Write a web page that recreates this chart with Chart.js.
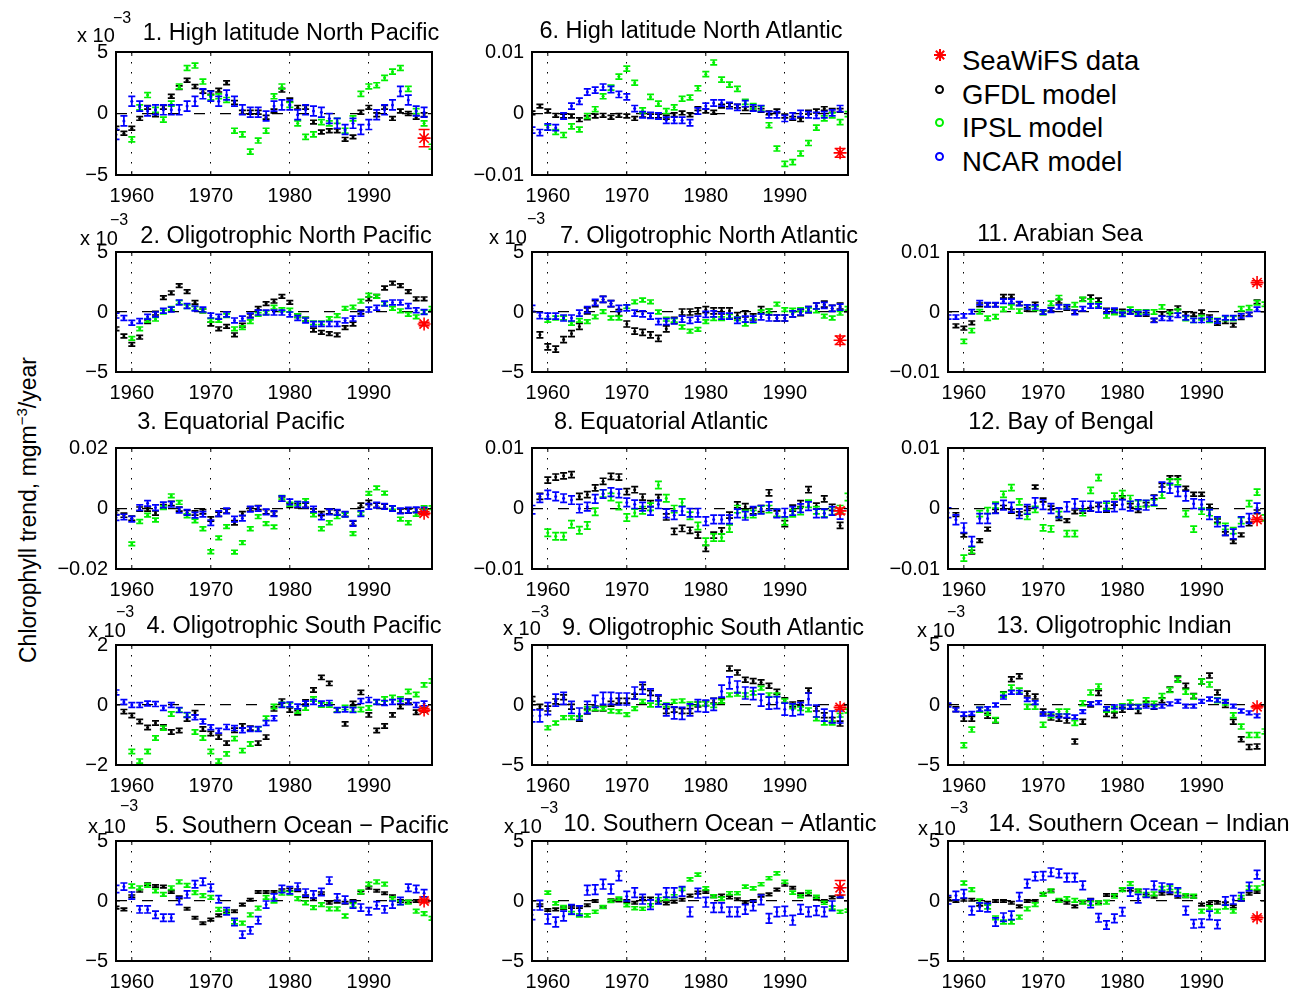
<!DOCTYPE html>
<html>
<head>
<meta charset="utf-8">
<title>Chlorophyll trend</title>
<script src="https://cdn.jsdelivr.net/npm/chart.js@4.4.1/dist/chart.umd.min.js"></script>
<style>
html,body{margin:0;padding:0;background:#fff;}
body{position:relative;width:1300px;height:994px;overflow:hidden;font-family:"Liberation Sans",Arial,Helvetica,sans-serif;color:#000;}
canvas{position:absolute;}
.ttl{position:absolute;white-space:nowrap;line-height:1;transform:translate(-50%,-50%);font-size:23.5px;}
.ex{position:absolute;white-space:nowrap;line-height:1;font-size:20px;transform:translateY(-50%);}
.exs{font-size:16px;}
#ylab{position:absolute;left:28px;top:510px;transform:translate(-50%,-50%) rotate(-90deg);font-size:23px;white-space:nowrap;line-height:1;}
#ylab sup{font-size:15px;vertical-align:0.6em;line-height:0;}
.leg{position:absolute;left:962px;font-size:27.5px;line-height:1;transform:translateY(-50%);white-space:nowrap;}
.mk{position:absolute;}
.circ{position:absolute;width:5px;height:5px;border-radius:50%;border:2.5px solid #000;}
</style>
</head>
<body>
<div id="ylab">Chlorophyll trend, mgm<sup>−3</sup>/year</div>

<svg class="mk" style="left:933px;top:48px" width="14" height="14"><g stroke="#ff0000" stroke-width="2"><line x1="7" y1="1" x2="7" y2="13"/><line x1="1" y1="7" x2="13" y2="7"/><line x1="2.8" y1="2.8" x2="11.2" y2="11.2"/><line x1="11.2" y1="2.8" x2="2.8" y2="11.2"/></g></svg>
<div class="leg" style="top:61px">SeaWiFS data</div>
<div class="circ" style="left:935px;top:85px;border-color:#000"></div>
<div class="leg" style="top:95px">GFDL model</div>
<div class="circ" style="left:935px;top:118px;border-color:#00f000"></div>
<div class="leg" style="top:128px">IPSL model</div>
<div class="circ" style="left:935px;top:152px;border-color:#0000ff"></div>
<div class="leg" style="top:162px">NCAR model</div>

<script>
// ---------------- DATA (values in units of 1e-3 mg m^-3 / year) ----------------
const years = [1958,1959,1960,1961,1962,1963,1964,1965,1966,1967,1968,1969,1970,1971,1972,1973,1974,1975,1976,1977,1978,1979,1980,1981,1982,1983,1984,1985,1986,1987,1988,1989,1990,1991,1992,1993,1994,1995,1996,1997,1998];
const xTickYears = [1960,1970,1980,1990];

const titles = ['1. High latitude North Pacific','2. Oligotrophic North Pacific','3. Equatorial Pacific','4. Oligotrophic South Pacific','5. Southern Ocean \u2212 Pacific','6. High latitude North Atlantic','7. Oligotrophic North Atlantic','8. Equatorial Atlantic','9. Oligotrophic South Atlantic','10. Southern Ocean \u2212 Atlantic','11. Arabian Sea','12. Bay of Bengal','13. Oligotrophic Indian','14. Southern Ocean \u2212 Indian'];

const yTickVals2 = [-2,0,2],   yTickText2 = ['\u22122','0','2'];
const yTickVals5 = [-5,0,5],   yTickText5 = ['\u22125','0','5'];
const yTickVals10 = [-10,0,10], yTickText10 = ['\u22120.01','0','0.01'];
const yTickVals20 = [-20,0,20], yTickText20 = ['\u22120.02','0','0.02'];
const panelYRange = [5,5,20,2,5,10,5,10,5,5,10,10,5,5];

const gfdl1 = [-1.2,-1.6,-1.2,-0.4,0.5,-0.1,0.5,1.4,2.1,2.7,2.2,1.8,1.7,1.9,2.5,0.9,0.1,0.1,0.1,-0.3,0.2,1.9,1.1,0.5,0.5,-0.7,-1.5,-1.4,-1.4,-2.1,-1.9,0.1,0.5,-0.1,0.5,-0.4,0.2,0.0,-0.3,-0.1,null];
const ipsl1 = [null,null,-2.1,0.5,1.5,0.3,-0.5,0.8,2.2,3.7,3.9,2.6,1.3,1.4,1.1,-1.4,-1.7,-3.1,-2.2,-1.4,1.4,2.2,0.7,-0.8,-1.9,-1.7,-0.7,-0.8,-0.6,-1.4,-0.4,1.6,2.2,2.3,2.9,3.4,3.7,2.0,0.2,-0.8,-2.7];
const ncar1 = [-1.7,-0.6,1.0,0.6,0.2,0.3,0.3,0.3,0.3,0.6,1.0,1.6,1.4,1.0,1.5,1.0,0.3,0.1,0.1,-0.2,0.6,0.7,0.7,-0.1,0.3,0.2,0.1,-0.4,-0.8,-1.3,-0.8,-1.3,-0.9,-0.1,0.3,0.7,1.8,1.1,0.2,0.1,null];

const gfdl2 = [-1.4,-2.0,-2.7,-2.1,-0.8,-0.1,1.2,1.6,2.2,1.7,0.8,0.1,-1.0,-1.4,-1.2,-1.9,-1.1,-0.3,0.3,0.7,0.9,1.3,0.8,-0.3,-0.6,-1.5,-1.7,-1.8,-1.9,-1.3,-1.0,0.0,1.1,1.3,2.0,2.4,2.2,1.7,1.1,1.1,null];
const ipsl2 = [null,null,-2.2,-1.4,-0.7,-0.6,0.0,0.3,0.8,0.45,0.3,0.1,-0.7,-0.7,-0.3,-1.4,-1.3,-0.8,-0.2,-0.05,0.4,0.2,0.15,-0.3,-0.6,-0.9,-0.9,-0.55,-0.3,0.3,0.4,0.9,1.4,1.3,0.7,0.3,0.1,-0.2,-0.4,0.0,0.3];
const ncar2 = [-0.3,-0.5,-0.9,-0.75,-0.4,-0.2,0.1,0.2,0.8,0.5,0.3,0.2,-0.3,-0.4,-0.2,-0.7,-0.55,-0.3,-0.05,-0.05,-0.05,-0.05,-0.2,-0.5,-0.7,-1.0,-1.0,-1.0,-1.0,-0.7,-0.55,-0.15,0.2,0.35,0.7,0.8,0.8,0.5,0.15,0.0,null];

const gfdl3 = [-1.3,-2.2,-3.2,-0.2,-0.2,-1.5,0.55,1.7,-0.2,-1.3,-1.5,-1.1,-3.5,-1.9,-0.8,-4.7,-1.7,-0.2,0.3,-1.1,-1.7,3.1,1.1,0.9,1.1,-0.8,-1.7,-1.1,-1.3,-1.9,-4.9,1.1,2.0,1.1,0.7,0.1,-0.8,-0.8,-0.45,-0.8,null];
const ipsl3 = [null,null,-11.7,-4.3,-2.2,-3.8,0.3,4.2,2.0,-2.4,-4.1,-6.7,-14.3,-9.7,-6.0,-14.4,-11.3,-6.7,-2.7,-5.0,-6.1,3.7,1.4,1.7,2.6,-2.1,-6.7,-4.7,-2.7,-2.1,-8.3,-1.7,5.0,6.8,5.1,0.3,-3.5,-4.7,-1.9,0.3,0.3];
const ncar3 = [-3.0,-2.8,-3.5,0.3,1.7,0.3,1.2,1.4,-0.55,-1.3,-2.2,-1.9,-4.7,-1.7,-0.8,-3.5,-3.2,-0.2,0.0,-1.1,-1.7,3.3,2.2,1.4,1.2,-0.2,-2.8,-1.1,-1.3,-1.9,-4.9,-1.7,0.7,1.1,0.7,0.0,-0.8,-0.55,-0.45,-0.55,null];

const gfdl4 = [null,-0.22,-0.35,-0.55,-0.75,-0.6,-0.73,-0.9,-0.85,-0.47,-0.26,-0.8,-0.95,-1.07,-1.27,-0.84,-0.7,-0.77,-1.27,-1.07,-0.13,0.13,-0.17,-0.26,0.1,0.5,0.92,0.72,-0.17,-0.63,0.05,0.42,-0.33,-0.85,-0.7,-0.33,-0.05,0.13,-0.24,-0.17,null];
const ipsl4 = [null,null,-1.55,-1.87,-1.55,-1.1,-0.77,-0.3,-0.17,-0.33,-0.9,-1.1,-1.55,-1.87,-1.63,-1.12,-1.52,-1.3,-0.8,-0.44,-0.05,0.02,0.0,-0.2,-0.1,0.2,0.0,0.0,-0.17,-0.08,-0.15,-0.15,-0.1,0.1,0.2,0.25,0.2,0.45,0.35,0.67,0.8];
const ncar4 = [0.42,0.1,0.0,0.0,0.05,0.03,-0.1,0.0,-0.17,-0.33,-0.41,-0.55,-0.74,-0.86,-0.73,-0.77,-0.84,-0.8,-0.8,-0.6,-0.44,0.0,0.02,-0.05,0.05,0.1,0.05,0.07,-0.17,-0.15,-0.17,0.13,0.17,0.1,0.07,0.1,0.13,0.1,0.0,0.05,null];

const gfdl5 = [-0.55,-0.7,0.4,0.85,1.4,1.25,1.2,0.75,0.3,-0.65,-1.4,-1.85,-1.55,-1.2,-0.85,-0.85,-0.3,0.1,0.75,0.75,0.75,0.9,0.95,0.9,0.4,0.15,0.65,-0.15,-0.05,-0.15,0.0,0.7,1.1,0.85,0.65,0.4,0.0,-0.05,0.0,0.0,null];
const ipsl5 = [null,null,1.25,1.1,1.3,0.85,0.55,1.1,1.6,1.3,0.7,0.45,0.3,-0.7,-0.9,-1.75,-1.85,-1.15,-0.6,0.3,0.0,0.65,0.65,0.2,-0.15,-0.55,-0.3,-0.65,-0.65,-1.25,-0.35,0.75,1.4,1.6,1.4,0.2,-0.15,-0.1,-0.85,-1.05,-1.45];
const ncar5 = [1.0,1.2,0.45,-0.7,-0.7,-1.15,-1.4,-1.4,0.0,0.55,1.4,1.6,1.1,0.15,-0.85,-1.75,-2.8,-2.45,-1.6,-0.3,0.3,1.0,0.9,1.2,0.7,0.55,0.75,1.7,0.3,0.1,-0.3,-0.55,-0.85,-0.35,-0.7,-0.3,0.0,1.1,1.0,0.65,null];

const gfdl6 = [0.1,1.2,0.4,-0.3,-0.4,-0.4,-1.0,-0.7,-0.4,-0.3,-0.6,-0.3,-0.4,-0.8,-0.3,-0.4,-0.4,-0.6,-0.2,0.1,-0.2,0.8,0.4,0.2,1.2,1.4,1.2,0.8,0.8,0.5,0.1,0.4,-0.4,-0.8,-1.0,0.2,0.4,0.8,0.5,0.5,null];
const ipsl6 = [null,null,-2.3,-3.0,-3.5,-2.1,-2.6,-0.4,0.7,2.8,4.2,6.0,7.3,5.0,0.5,2.7,1.6,0.4,1.0,2.4,2.6,4.1,6.4,8.3,5.5,4.7,4.0,1.9,1.2,0.8,-1.9,-5.7,-8.2,-7.9,-6.5,-4.8,-2.3,-0.8,-0.3,-1.4,-0.1];
const ncar6 = [-2.7,-3.1,-2.2,-2.3,-0.4,1.2,2.0,3.5,3.8,4.3,3.9,3.1,2.7,0.8,-0.2,-0.3,-0.4,-1.1,-1.1,-1.1,-1.5,0.4,1.2,1.7,1.7,1.3,1.0,1.6,0.9,0.8,-0.2,-0.2,-0.8,-0.4,0.0,-0.2,-0.3,-0.2,0.1,0.8,null];

const gfdl7 = [null,-1.9,-2.9,-3.1,-2.3,-1.8,-1.2,0.1,0.7,1.05,0.7,-0.05,-1.0,-1.6,-1.7,-1.9,-2.2,-1.4,-0.7,0.0,0.0,0.1,0.2,0.1,0.1,0.1,-0.3,-0.15,-0.4,0.2,0.0,-0.5,-0.5,-0.15,-0.05,0.2,0.5,0.65,0.3,0.5,null];
const ipsl7 = [null,null,-0.7,-0.5,-0.5,-0.95,-0.7,-0.8,-0.4,0.03,-0.5,-0.5,0.45,0.85,1.0,0.85,0.0,-0.6,-0.7,-1.25,-1.6,-1.45,-0.8,-0.55,-0.55,-0.35,-0.55,-1.0,-0.75,0.0,0.1,0.65,0.2,0.15,0.2,0.2,0.1,-0.35,-0.5,-0.1,0.3];
const ncar7 = [0.3,-0.3,-0.35,-0.35,-0.5,-0.5,-0.1,0.2,0.8,1.05,0.7,0.3,0.35,-0.1,-0.15,-0.35,-0.8,-0.8,-0.75,-0.6,-0.7,-0.6,-0.2,-0.15,-0.35,-0.35,-0.7,-0.6,-0.6,-0.4,-0.5,-0.5,-0.5,-0.15,0.0,0.2,0.5,0.55,0.3,0.4,null];

const gfdl8 = [null,2.0,4.7,5.2,5.4,5.6,2.0,2.3,3.4,4.5,5.3,5.2,2.8,3.1,1.9,0.8,1.8,-1.4,-3.8,-3.3,-3.6,-4.4,-6.6,-4.4,-3.7,-1.1,0.6,0.3,-0.4,0.0,2.6,-0.9,-2.5,0.05,0.8,3.1,0.4,1.6,0.2,-2.8,null];
const ipsl8 = [null,null,-4.0,-4.6,-4.6,-2.6,-3.6,-2.8,-0.55,2.5,1.9,0.4,-1.5,-0.7,-0.3,0.3,3.9,1.7,-0.1,1.0,-1.2,-2.9,-5.5,-4.8,-4.8,-3.3,-0.1,-0.9,-0.9,-0.2,-0.1,-0.7,-2.1,-0.8,-0.4,0.8,-0.3,-0.8,-0.4,-0.1,1.9];
const ncar8 = [-0.2,1.7,2.3,2.0,1.7,1.4,0.0,0.3,1.6,2.4,2.7,2.5,1.0,0.7,0.3,-0.4,0.7,-0.8,-1.1,-0.4,-0.7,-0.7,-2.1,-1.8,-1.8,-1.8,-0.8,-1.2,-0.4,-0.2,0.4,-0.8,-0.7,-0.4,0.05,0.4,-0.8,-0.8,-0.4,-1.05,null];

const gfdl9 = [0.5,-0.15,-0.3,0.3,0.65,-0.15,-1.15,-0.55,-0.3,-0.3,0.1,0.35,0.35,0.7,1.5,1.0,0.55,-0.5,-0.4,-0.5,-0.5,0.05,0.15,0.35,0.35,3.05,2.7,2.1,2.0,1.9,1.6,1.1,0.4,0.05,0.15,1.2,-0.3,-0.85,-1.25,-1.55,null];
const ipsl9 = [null,null,-1.9,-1.5,-1.05,-1.05,-1.05,-0.3,-0.3,-0.3,-0.5,-0.55,-0.8,-0.3,0.3,0.0,0.2,0.0,0.3,0.35,0.1,0.1,0.1,-0.05,0.3,0.85,0.9,0.85,1.0,1.4,0.85,0.85,0.35,-0.15,-0.3,-0.4,-1.15,-1.5,-1.5,-0.85,-0.5];
const ncar9 = [-0.9,-0.9,-0.3,0.4,0.55,-0.2,-0.75,-0.2,0.3,0.55,0.55,0.5,0.5,1.0,1.4,0.85,0.35,-0.4,-0.65,-0.7,-0.4,-0.05,-0.1,0.05,1.15,1.85,1.5,1.0,0.95,0.4,0.15,0.2,-0.35,-0.4,-0.3,0.5,-0.5,-0.85,-1.0,-1.0,null];

const gfdl10 = [null,-0.35,-0.75,-0.7,-0.6,-0.5,-0.5,-0.35,0.0,-0.5,0.05,0.05,0.0,-0.15,0.2,0.2,-0.1,-0.2,-0.05,0.1,0.45,0.7,0.75,0.4,0.45,0.3,0.15,-0.1,0.0,0.45,0.55,0.95,1.35,1.1,0.55,0.55,0.2,0.0,0.3,0.35,null];
const ipsl10 = [null,null,0.7,-0.2,-0.5,-1.0,-1.2,-1.2,-0.9,-0.5,0.0,0.2,-0.35,-0.6,-0.65,-0.35,0.15,0.2,0.4,1.0,1.8,2.2,1.05,0.4,0.2,0.65,0.65,1.2,1.05,1.4,1.9,2.3,1.6,0.7,0.4,0.75,0.35,-0.15,-0.55,-0.9,-0.8];
const ncar10 = [-1.15,-0.35,-1.5,-1.75,-1.25,-0.7,-0.8,0.9,0.95,1.4,1.0,2.1,0.4,0.7,0.15,-0.3,0.15,0.7,0.7,0.8,-0.9,0.65,-0.1,-0.55,-0.55,-0.9,-0.9,-0.7,-0.4,0.1,-1.45,-0.9,-0.85,-1.6,-0.7,-0.9,-0.8,-0.9,-0.4,0.7,null];

const gfdl11 = [null,-2.3,-2.7,-1.8,1.2,1.2,1.2,2.6,2.6,1.4,0.45,1.3,-0.1,0.45,1.8,0.6,0.0,2.1,2.5,2.0,0.3,0.15,0.15,0.05,-0.4,-0.4,-1.4,-0.3,0.05,0.7,-0.3,-0.4,0.0,-0.8,-1.9,-1.6,-2.2,-0.95,-0.4,1.7,null];
const ipsl11 = [null,null,-4.9,-3.1,0.05,-1.05,-0.8,0.45,0.85,0.15,0.85,0.6,-0.1,1.45,2.4,0.9,1.2,2.1,1.8,1.2,-0.65,-0.1,-0.2,0.45,0.0,0.0,0.0,0.85,-0.4,0.15,-1.1,-1.4,-0.95,-1.4,-1.4,-1.1,-1.1,0.55,0.7,1.55,1.3];
const ncar11 = [-0.85,-0.85,-0.65,0.05,1.55,1.2,1.2,1.8,1.8,1.4,0.85,0.85,0.0,0.3,0.85,0.85,-0.1,0.55,1.0,1.0,0.15,0.3,-0.4,0.0,-0.3,-0.1,-1.4,-1.05,-1.1,-0.55,-0.95,-1.4,-1.4,-1.2,-1.5,-0.95,-0.95,-0.65,-0.4,0.45,null];

const gfdl12 = [null,-1.0,-4.4,-7.2,-5.3,-3.4,-0.45,0.2,-0.45,-0.85,0.0,3.55,1.4,0.1,-1.65,-2.0,-0.55,-0.45,-0.15,0.65,-0.3,0.85,1.8,0.5,-0.35,0.65,1.9,3.85,5.1,5.1,3.35,2.35,2.35,0.4,-2.0,-4.15,-5.45,-4.35,-2.55,-0.55,null];
const ipsl12 = [null,null,-8.2,-6.9,-0.85,-0.35,0.55,2.35,3.45,1.1,-1.3,-0.15,-3.2,-3.35,-1.0,-4.15,-4.15,-0.7,3.0,5.1,0.4,2.05,2.45,1.65,0.8,0.8,0.95,2.2,4.4,4.4,-0.85,-3.4,-0.45,-0.7,-2.0,-2.95,-3.65,-2.0,0.8,2.7,-1.55];
const ncar12 = [-0.7,-1.85,-3.2,-5.45,-1.65,-1.65,0.0,0.55,0.2,-0.85,-0.15,0.95,0.65,0.0,-0.7,0.3,0.8,0.4,0.4,0.2,0.4,0.3,0.65,0.4,0.65,0.55,1.35,3.55,3.35,2.8,2.05,0.8,0.65,-1.0,-2.2,-3.65,-4.2,-2.2,-1.65,0.1,null];

const gfdl13 = [null,-0.35,-1.15,-1.15,-0.4,-0.9,-1.3,0.9,2.15,2.4,0.95,0.7,-0.55,-1.05,-1.15,-1.3,-3.05,-1.4,0.05,1.0,-0.75,-0.85,-0.4,-0.15,-0.5,0.1,-0.15,0.4,1.3,2.2,1.6,0.75,1.95,2.45,1.05,0.0,-1.4,-2.85,-3.5,-3.45,null];
const ipsl13 = [null,null,-3.35,-2.05,-0.4,-0.65,-1.25,0.85,1.45,1.2,-0.15,-0.15,-1.65,-0.85,-0.55,-0.55,-1.5,0.15,1.05,1.55,-0.4,-0.35,-0.1,0.2,-0.15,0.4,0.1,0.75,1.25,2.1,1.1,0.7,1.95,1.7,0.4,0.2,-0.85,-1.8,-2.5,-2.5,-2.2];
const ncar13 = [0.0,-0.4,-0.75,-0.7,-0.35,-0.3,0.0,0.65,1.05,1.05,0.45,0.2,-0.75,-0.75,-0.9,-0.9,-1.0,-0.55,0.1,0.2,-0.3,-0.15,-0.15,-0.15,-0.15,-0.1,-0.15,-0.1,0.1,0.3,-0.1,-0.1,0.3,0.5,0.4,0.3,-0.1,-0.5,-0.65,-0.9,null];

const gfdl14 = [0.2,0.0,0.1,0.1,-0.3,-0.15,0.0,0.0,-0.15,-0.45,0.0,0.0,0.55,0.85,0.0,-0.15,-0.45,-0.1,0.1,-0.1,0.5,0.5,0.95,0.95,0.85,0.45,0.35,0.6,0.65,0.35,0.4,0.35,-0.3,-0.2,-0.15,-0.2,-0.45,0.1,0.6,0.75,null];
const ipsl14 = [null,null,1.5,0.95,0.0,-0.5,-1.4,-1.75,-1.75,-1.35,-0.65,-0.3,0.55,0.85,0.05,0.2,0.05,-0.1,-0.2,-0.15,-0.1,0.4,0.95,1.45,0.85,0.55,0.6,1.05,1.1,0.85,0.45,0.4,-0.85,-0.55,-0.85,-0.5,-0.85,0.3,1.1,1.1,1.5];
const ncar14 = [0.1,0.45,0.6,-0.8,-0.5,-0.55,-1.75,-1.35,-1.2,0.35,1.45,2.05,2.1,2.4,2.3,1.95,1.95,1.3,-0.2,-1.4,-2.0,-1.45,-0.9,0.75,0.2,0.65,1.3,1.15,1.05,0.75,-0.8,-1.9,-1.85,-1.2,-1.95,0.0,0.1,0.35,1.2,2.2,null];

// SeaWiFS (1997) value and error for panels 1..14
const seawifsYear = 1997;
const seawifs    = [-2.0,-1.0,-1.6,-0.17,0.0,-6.4,-2.35,-0.4,-0.2,1.1,4.9,-1.85,-0.15,-1.4];
const seawifsErr = [0.7,0.15,0.5,0.05,0.15,0.7,0.35,0.5,0.15,0.6,0.3,0.3,0.1,0.15];
// half-width of model error bars, panels 1..14
const errGFDL = [0.15,0.15,0.7,0.07,0.1,0.3,0.25,0.5,0.2,0.1,0.3,0.3,0.2,0.1];
const errIPSL = [0.2,0.15,0.6,0.07,0.15,0.4,0.15,0.6,0.15,0.12,0.35,0.5,0.2,0.15];
const errNCAR = [0.4,0.2,0.9,0.08,0.3,0.5,0.25,0.7,0.5,0.4,0.35,0.8,0.15,0.35];

// ---------------- LAYOUT ----------------
const FONT = '"Liberation Sans", Arial, Helvetica, sans-serif';
Chart.defaults.font.family = FONT;
Chart.defaults.color = '#000';
const colLeft = [116, 532, 948], colRight = [432, 848, 1265];
const rowTop = [52, 252, 448, 645, 841], rowBottom = [175, 372, 569, 765, 961];
const layout = [
 {col:0,row:0,tx:291,ty:33, exp:[77,35,113,18]},
 {col:0,row:1,tx:286,ty:236,exp:[80,238,110,220]},
 {col:0,row:2,tx:241,ty:422,exp:null},
 {col:0,row:3,tx:294,ty:626,exp:[88,630,116,612]},
 {col:0,row:4,tx:302,ty:826,exp:[88,826,120,806]},
 {col:1,row:0,tx:691,ty:31, exp:null},
 {col:1,row:1,tx:709,ty:236,exp:[489,237,527,219]},
 {col:1,row:2,tx:661,ty:422,exp:null},
 {col:1,row:3,tx:713,ty:628,exp:[503,628,531,612]},
 {col:1,row:4,tx:720,ty:824,exp:[504,826,540,808]},
 {col:2,row:1,tx:1060,ty:234,exp:null},
 {col:2,row:2,tx:1061,ty:422,exp:null},
 {col:2,row:3,tx:1114,ty:626,exp:[917,630,947,612]},
 {col:2,row:4,tx:1139,ty:824,exp:[918,828,950,808]}
];
const gfdlAll = [gfdl1,gfdl2,gfdl3,gfdl4,gfdl5,gfdl6,gfdl7,gfdl8,gfdl9,gfdl10,gfdl11,gfdl12,gfdl13,gfdl14];
const ipslAll = [ipsl1,ipsl2,ipsl3,ipsl4,ipsl5,ipsl6,ipsl7,ipsl8,ipsl9,ipsl10,ipsl11,ipsl12,ipsl13,ipsl14];
const ncarAll = [ncar1,ncar2,ncar3,ncar4,ncar5,ncar6,ncar7,ncar8,ncar9,ncar10,ncar11,ncar12,ncar13,ncar14];
const tickVals = {2:yTickVals2,5:yTickVals5,10:yTickVals10,20:yTickVals20};
const tickText = {2:yTickText2,5:yTickText5,10:yTickText10,20:yTickText20};

const COLORS = {gfdl:'#000000', ipsl:'#00f000', ncar:'#0000ff', sw:'#ff0000'};

const errPlugin = {
  id:'errbars',
  afterDatasetDraw(chart, args){
    const ds = chart.data.datasets[args.index];
    if (ds.err == null) return;
    const xs = chart.scales.x, ys = chart.scales.y, a = chart.chartArea, ctx = chart.ctx;
    ctx.save();
    ctx.beginPath(); ctx.rect(a.left, a.top, a.right-a.left, a.bottom-a.top); ctx.clip();
    ctx.strokeStyle = ds.borderColor; ctx.lineWidth = ds.ebWidth || 1.7; ctx.setLineDash([]);
    const c = ds.cap;
    ds.data.forEach(p => {
      const px = xs.getPixelForValue(p.x);
      const y1 = ys.getPixelForValue(p.y - ds.err), y2 = ys.getPixelForValue(p.y + ds.err);
      ctx.beginPath();
      ctx.moveTo(px, y1); ctx.lineTo(px, y2);
      ctx.moveTo(px - c, y1); ctx.lineTo(px + c, y1);
      ctx.moveTo(px - c, y2); ctx.lineTo(px + c, y2);
      ctx.stroke();
    });
    ctx.restore();
  }
};
const boxPlugin = {
  id:'box',
  afterDatasetsDraw(chart){
    const ctx = chart.ctx, a = chart.chartArea, xs = chart.scales.x, ys = chart.scales.y;
    ctx.save();
    ctx.setLineDash([]);
    ctx.strokeStyle = '#000';
    ctx.lineWidth = 1;
    xs.ticks.forEach(t => { const px = xs.getPixelForValue(t.value); ctx.beginPath(); ctx.moveTo(px, a.bottom); ctx.lineTo(px, a.bottom-4); ctx.moveTo(px, a.top); ctx.lineTo(px, a.top+4); ctx.stroke(); });
    ys.ticks.forEach(t => { const py = ys.getPixelForValue(t.value); ctx.beginPath(); ctx.moveTo(a.left, py); ctx.lineTo(a.left+4, py); ctx.moveTo(a.right, py); ctx.lineTo(a.right-4, py); ctx.stroke(); });
    ctx.lineWidth = 2;
    ctx.strokeRect(a.left, a.top, a.right-a.left, a.bottom-a.top);
    ctx.restore();
  }
};

function pts(arr){ const out=[]; years.forEach((yr,k)=>{ if(arr[k]!==null) out.push({x:yr,y:arr[k]}); }); return out; }

function addText(cls, html, x, y){
  const d = document.createElement('div'); d.className = cls; d.innerHTML = html;
  d.style.left = x+'px'; d.style.top = y+'px'; document.body.appendChild(d); return d;
}

const L=84, T=12, R=12, B=42;
layout.forEach((lay, i) => {
  const left = colLeft[lay.col], right = colRight[lay.col], top = rowTop[lay.row], bottom = rowBottom[lay.row];
  const w = right-left+L+R, h = bottom-top+T+B;
  const cv = document.createElement('canvas');
  cv.width = w; cv.height = h;
  cv.style.width = w+'px'; cv.style.height = h+'px';
  cv.style.left = (left-L)+'px'; cv.style.top = (top-T)+'px';
  document.body.appendChild(cv);
  const lim = panelYRange[i];
  const vals = tickVals[lim], texts = tickText[lim];
  const series = (label, arr, col, err) => ({label, data: pts(arr), err, cap:3.5, borderColor:col, backgroundColor:col,
      pointRadius:1.5, pointBorderWidth:0, showLine:false, clip:0});
  const chart = new Chart(cv, {
    type:'scatter',
    data:{datasets:[
      {label:'SeaWiFS data', data:[{x:seawifsYear, y:seawifs[i]}], err:seawifsErr[i], cap:5.5, ebWidth:1.5,
        borderColor:COLORS.sw, backgroundColor:COLORS.sw, pointStyle:'star', pointRadius:6.5, pointBorderWidth:1.6, showLine:false, clip:0},
      series('NCAR model', ncarAll[i], COLORS.ncar, errNCAR[i]),
      series('IPSL model', ipslAll[i], COLORS.ipsl, errIPSL[i]),
      series('GFDL model', gfdlAll[i], COLORS.gfdl, errGFDL[i])
    ]},
    options:{
      responsive:false, maintainAspectRatio:false, animation:false, devicePixelRatio:1, events:[],
      layout:{padding:{left:0, top:T, right:R, bottom:0}},
      plugins:{legend:{display:false}, tooltip:{enabled:false}, title:{display:false}},
      scales:{
        x:{type:'linear', min:1958, max:1998,
           afterBuildTicks: s => { s.ticks = xTickYears.map(v => ({value:v})); },
           afterFit: s => { s.height = B; },
           ticks:{autoSkip:false, maxRotation:0, minRotation:0, padding:9, color:'#000', font:{family:FONT, size:20}, callback: v => String(v)},
           grid:{display:true, drawTicks:false, color:'#000', lineWidth:1},
           border:{display:false, dash:[1.5,8.5]}},
        y:{type:'linear', min:-lim, max:lim,
           afterBuildTicks: s => { s.ticks = vals.map(v => ({value:v})); },
           afterFit: s => { s.width = L; },
           ticks:{autoSkip:false, padding:8, color:'#000', font:{family:FONT, size:20}, callback: (v, idx) => texts[idx]},
           grid:{display:true, drawTicks:false, lineWidth:1.2, color: c => (c.tick && c.tick.value === 0) ? '#000' : 'rgba(0,0,0,0)'},
           border:{display:false, dash:[11,15]}}
      }
    },
    plugins:[errPlugin, boxPlugin]
  });
  // make the plot area land exactly on the target rectangle
  let ca = chart.chartArea;
  const extraH = (ca.bottom - ca.top) - (bottom - top);
  const extraW = (ca.right - ca.left) - (right - left);
  if (extraH !== 0 || extraW !== 0) {
    const nw = w - extraW, nh = h - extraH;
    cv.style.width = nw+'px'; cv.style.height = nh+'px';
    chart.resize(nw, nh);
    ca = chart.chartArea;
  }
  cv.style.left = (left - ca.left)+'px';
  cv.style.top = (top - ca.top)+'px';

  addText('ttl', titles[i], lay.tx, lay.ty);
  if (lay.exp) {
    const e1 = document.createElement('div'); e1.className='ex'; e1.textContent='x 10';
    e1.style.left = lay.exp[0]+'px'; e1.style.top = lay.exp[1]+'px'; document.body.appendChild(e1);
    const e2 = document.createElement('div'); e2.className='ex exs'; e2.textContent='\u22123';
    e2.style.left = lay.exp[2]+'px'; e2.style.top = lay.exp[3]+'px'; document.body.appendChild(e2);
  }
});
</script>
</body>
</html>
